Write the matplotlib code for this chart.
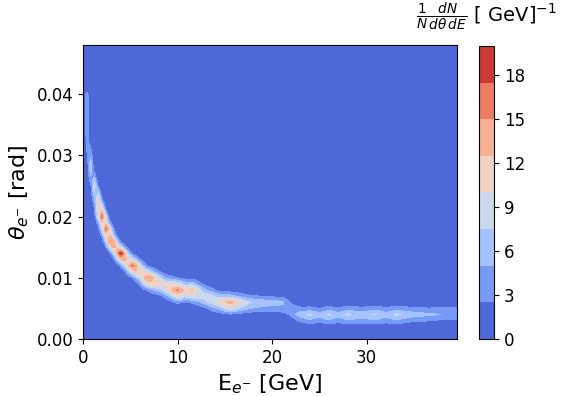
import numpy as np
import matplotlib
matplotlib.use("Agg")
import matplotlib.pyplot as plt

# ridge of the distribution: energy, angle, peak height, width (px)
ridge_E = [0.45, 0.5, 0.6, 0.8, 1.1, 1.5, 1.75, 2.0, 2.25, 2.5, 2.75, 3.0, 3.5, 4.0,
           4.6, 5.3, 6.2, 7.0, 8.5, 10.1, 10.8, 11.5, 12.5, 14.0, 15.6, 17.5, 19.5,
           21.0, 22.0, 23.0, 24.0, 25.0, 26.0, 27.0, 28.0, 29.5, 31.0, 32.0, 33.2,
           34.5, 36.5, 38.0, 39.6]
ridge_theta = [0.0405, 0.036, 0.031, 0.028, 0.0258, 0.0232, 0.0215, 0.0199, 0.0188,
               0.0178, 0.0168, 0.0158, 0.0148, 0.0139, 0.0128, 0.0119, 0.0107, 0.0098,
               0.0088, 0.0079, 0.0079, 0.0078, 0.0072, 0.0062, 0.0058, 0.0058, 0.0058,
               0.0057, 0.0047, 0.0040, 0.0039, 0.0039, 0.0039, 0.0039, 0.0039, 0.0039,
               0.0039, 0.0039, 0.0039, 0.0040, 0.0040, 0.0041, 0.0041]
ridge_peak = [4.0, 5.0, 6.0, 6.5, 8.0, 10.0, 12.0, 17.0, 12.0, 17.5, 12.0, 17.5, 12.5,
              19.7, 12.0, 16.5, 11.0, 15.5, 10.0, 15.5, 11.5, 13.0, 9.0, 9.5, 14.0, 8.0,
              6.5, 6.0, 4.0, 6.5, 8.0, 6.0, 8.0, 6.0, 8.0, 6.5, 8.0, 6.0, 8.0, 6.5,
              5.5, 5.0, 5.0]
ridge_width = [1.2, 1.3, 1.5, 1.7, 2.0, 2.6, 2.9, 3.2, 3.4, 3.6, 3.7, 3.8, 4.0, 4.3,
               4.6, 5.0, 5.4, 5.8, 6.0, 6.4, 6.3, 6.2, 6.2, 6.0, 5.6, 5.2, 5.0, 5.0,
               5.0, 4.8, 5.0, 5.0, 5.2, 5.2, 5.2, 5.4, 5.4, 5.4, 5.2, 5.0, 5.0, 5.0,
               5.0]

E_bins = np.linspace(0, 39.6, 100)
theta_bins = np.linspace(0, 0.048, 49)

# pixel-like scale so widths are isotropic
sx, sy = 9.43, 6100.0
EE, TT = np.meshgrid(E_bins, theta_bins)
X, Y = EE * sx, TT * sy
Z = np.zeros_like(X)
for k in range(len(ridge_E) - 1):
    ax_, ay_ = ridge_E[k] * sx, ridge_theta[k] * sy
    bx_, by_ = ridge_E[k + 1] * sx, ridge_theta[k + 1] * sy
    dx, dy = bx_ - ax_, by_ - ay_
    t = np.clip(((X - ax_) * dx + (Y - ay_) * dy) / (dx * dx + dy * dy), 0, 1)
    d2 = (X - ax_ - t * dx) ** 2 + (Y - ay_ - t * dy) ** 2
    p = ridge_peak[k] + t * (ridge_peak[k + 1] - ridge_peak[k])
    w = ridge_width[k] + t * (ridge_width[k + 1] - ridge_width[k])
    Z = np.maximum(Z, p * np.exp(-0.5 * d2 / w ** 2))

fig = plt.figure(figsize=(5.61, 3.96), dpi=100)
ax = fig.add_axes([0.148, 0.144, 0.667, 0.742])
cax = fig.add_axes([0.854, 0.144, 0.027, 0.740])

levels = np.arange(0, 20.1, 2.5)
cs = ax.contourf(EE, TT, Z, levels=levels, cmap="coolwarm")
ax.set_xlim(0, 39.6)
ax.set_ylim(0, 0.048)
ax.set_xlabel(r"E$_{e^{-}}$ [GeV]", fontsize=16)
ax.set_ylabel(r"$\theta_{e^{-}}$ [rad]", fontsize=16)
ax.set_yticks([0, 0.01, 0.02, 0.03, 0.04])
ax.tick_params(labelsize=12)

cb = fig.colorbar(cs, cax=cax, ticks=[0, 3, 6, 9, 12, 15, 18])
cb.ax.tick_params(labelsize=12)
fig.text(0.993, 0.957, r"$\frac{1}{N}\frac{dN}{d\theta\,dE}$ [ GeV]$^{-1}$",
         fontsize=14, ha="right", va="center")

fig.savefig("out.png", dpi=100)
